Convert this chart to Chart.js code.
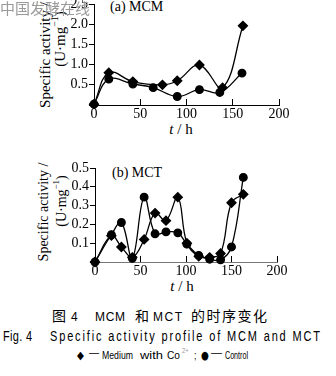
<!DOCTYPE html>
<html><head><meta charset="utf-8">
<script src="https://cdn.jsdelivr.net/npm/chart.js@4/dist/chart.umd.min.js"></script>
<style>
html,body{margin:0;padding:0;background:#fff;}
#wrap{position:relative;width:336px;height:376px;overflow:hidden;background:#fff;}
canvas{position:absolute;left:0;}
svg{position:absolute;left:0;top:0;}
</style></head><body>
<div id="wrap">
<svg width="336" height="376" xmlns="http://www.w3.org/2000/svg">
 <g font-family="Liberation Serif, serif" fill="#000">
  <text x="110" y="11" font-size="14">(a) MCM</text>
  <text x="112" y="177" font-size="14">(b) MCT</text>
  <text transform="translate(45,55) rotate(-90)" text-anchor="middle" dominant-baseline="central" font-size="15">Specific activity /</text>
  <text transform="translate(60,39) rotate(-90)" text-anchor="middle" dominant-baseline="central" font-size="15">(U·mg<tspan baseline-shift="super" font-size="10">−1</tspan>)</text>
  <text transform="translate(43,212) rotate(-90)" text-anchor="middle" dominant-baseline="central" font-size="14">Specific activity /</text>
  <text transform="translate(61,201) rotate(-90)" text-anchor="middle" dominant-baseline="central" font-size="14">(U·mg<tspan baseline-shift="super" font-size="9">−1</tspan>)</text>
  <text x="181" y="134" text-anchor="middle" font-size="15"><tspan font-style="italic">t</tspan> / h</text>
  <text x="182" y="291" text-anchor="middle" font-size="15"><tspan font-style="italic">t</tspan> / h</text>
 </g>
 <g font-family="Noto Sans CJK SC" font-size="14" fill="#000">
  <text x="52" y="321">图</text>
  <text x="135" y="321">和</text>
  <text x="191" y="321" textLength="76" lengthAdjust="spacing">的时序变化</text>
 </g>
 <g font-family="Liberation Sans, sans-serif" font-size="12" fill="#000">
  <text x="71" y="321">4</text>
  <text x="95" y="321" textLength="30" lengthAdjust="spacing">MCM</text>
  <text x="153" y="321" textLength="29" lengthAdjust="spacing">MCT</text>
 </g>
 <g transform="translate(0,341) scale(1,1.3)" font-family="Liberation Sans, sans-serif" font-size="11" fill="#000">
  <text x="3" y="0" textLength="29" lengthAdjust="spacing">Fig. 4</text>
  <text x="50" y="0" textLength="270" lengthAdjust="spacing">Specific activity profile of MCM and MCT</text>
 </g>
 <g transform="translate(0,359) scale(1,1.25)" font-family="Liberation Sans, sans-serif" font-size="9" fill="#000">
  <text x="77" y="0" font-family="DejaVu Sans" font-size="9">◆</text>
  <text x="89" y="-2.5" textLength="10" lengthAdjust="spacingAndGlyphs">—</text>
  <text x="102" y="0" textLength="31" lengthAdjust="spacingAndGlyphs">Medium</text>
  <text x="140" y="0" textLength="23" lengthAdjust="spacingAndGlyphs">with</text>
  <text x="167" y="0" textLength="13" lengthAdjust="spacingAndGlyphs">Co</text>
  <text x="182" y="-5" font-size="6" fill="#999">2+</text>
  <text x="194" y="0">;</text>
  <text x="201" y="0" font-family="DejaVu Sans" font-size="9">●</text>
  <text x="211" y="-2.5" textLength="11" lengthAdjust="spacingAndGlyphs">—</text>
  <text x="225" y="0" textLength="23" lengthAdjust="spacingAndGlyphs">Control</text>
 </g>
</svg>
<canvas id="c1" width="336" height="131" style="top:-6px"></canvas>
<canvas id="c2" width="336" height="124" style="top:158px"></canvas>
<svg width="336" height="20" xmlns="http://www.w3.org/2000/svg">
 <text x="0" y="14" font-family="Noto Sans CJK SC" font-size="15" fill="#9a9a9a" textLength="90" lengthAdjust="spacingAndGlyphs">中国发酵在线</text>
</svg>
</div>
<script>
// Panel (a) MCM
const tMedA  = [0, 16, 42, 74, 90, 114, 139, 161];
const medA   = [0.02, 0.80, 0.58, 0.50, 0.60, 0.99, 0.43, 1.96];
const tCtrlA = [0, 16, 42, 64, 90, 114, 136, 160];
const ctrlA  = [0.02, 0.64, 0.52, 0.43, 0.21, 0.38, 0.31, 0.79];
// Panel (b) MCT
const tB    = [0, 18, 29, 41, 54, 66, 78, 91, 101, 114, 126, 138, 150, 163];
const medB  = [0.00, 0.14, 0.08, 0.025, 0.12, 0.26, 0.22, 0.345, 0.10, 0.03, 0.025, 0.045, 0.315, 0.36];
const ctrlB = [0.00, 0.145, 0.21, 0.02, 0.345, 0.15, 0.16, 0.155, 0.095, 0.035, 0.015, 0.012, 0.08, 0.45];
// Axes
const xTicks = [0, 50, 100, 150, 200];
const yTicksA = [0.5, 1.0, 1.5, 2.0, 2.5];
const yTicksB = [0.1, 0.2, 0.3, 0.4, 0.5];

const FONT = {family: 'Liberation Serif', size: 14};
const pts = (xs, ys) => xs.map((x, i) => ({x: x, y: ys[i]}));
function ds(xs, ys, style, r) {
  return {data: pts(xs, ys), pointStyle: style, pointRadius: r, pointBackgroundColor: '#000',
    pointBorderColor: '#000', borderColor: '#000', borderWidth: 1.3, tension: 0.4, fill: false, clip: false};
}
function build(id, med, ctrl, yMax, yLabels, leftW, rightPad, xBorder) {
  new Chart(document.getElementById(id), {
    type: 'line',
    data: {datasets: [med, ctrl]},
    options: {
      responsive: false, animation: false, devicePixelRatio: 1,
      layout: {padding: {top: 10, right: rightPad, left: 0, bottom: 0}},
      plugins: {legend: {display: false}, tooltip: {enabled: false}},
      scales: {
        x: {type: 'linear', min: xTicks[0], max: xTicks[xTicks.length - 1],
          afterBuildTicks: s => { s.ticks = xTicks.map(v => ({value: v})); },
          ticks: {font: FONT, color: '#000', padding: 7, maxRotation: 0, autoSkip: false},
          grid: {drawOnChartArea: false, drawTicks: true, tickLength: -6, color: '#000'},
          border: {color: xBorder, width: 1},
          afterFit: s => { s.height = 20; }},
        y: {min: 0, max: yMax,
          afterBuildTicks: s => { s.ticks = [0].concat(yLabels).map(v => ({value: v})); },
          ticks: {font: FONT, color: '#000', padding: 1, autoSkip: false, callback: v => v === 0 ? '' : v.toFixed(1)},
          grid: {drawOnChartArea: false, drawTicks: true, tickLength: 5, color: '#000'},
          border: {color: '#000', width: 1},
          afterFit: s => { s.width = leftW; }}
      }
    }
  });
}
build('c1', ds(tMedA, medA, 'rectRot', 4.5), ds(tCtrlA, ctrlA, 'circle', 3.8), 2.5, yTicksA, 94, 57, '#000');
build('c2', ds(tB, medB, 'rectRot', 4.5), ds(tB, ctrlB, 'circle', 3.8), 0.5, yTicksB, 95, 59, '#777');
</script>
</body></html>
